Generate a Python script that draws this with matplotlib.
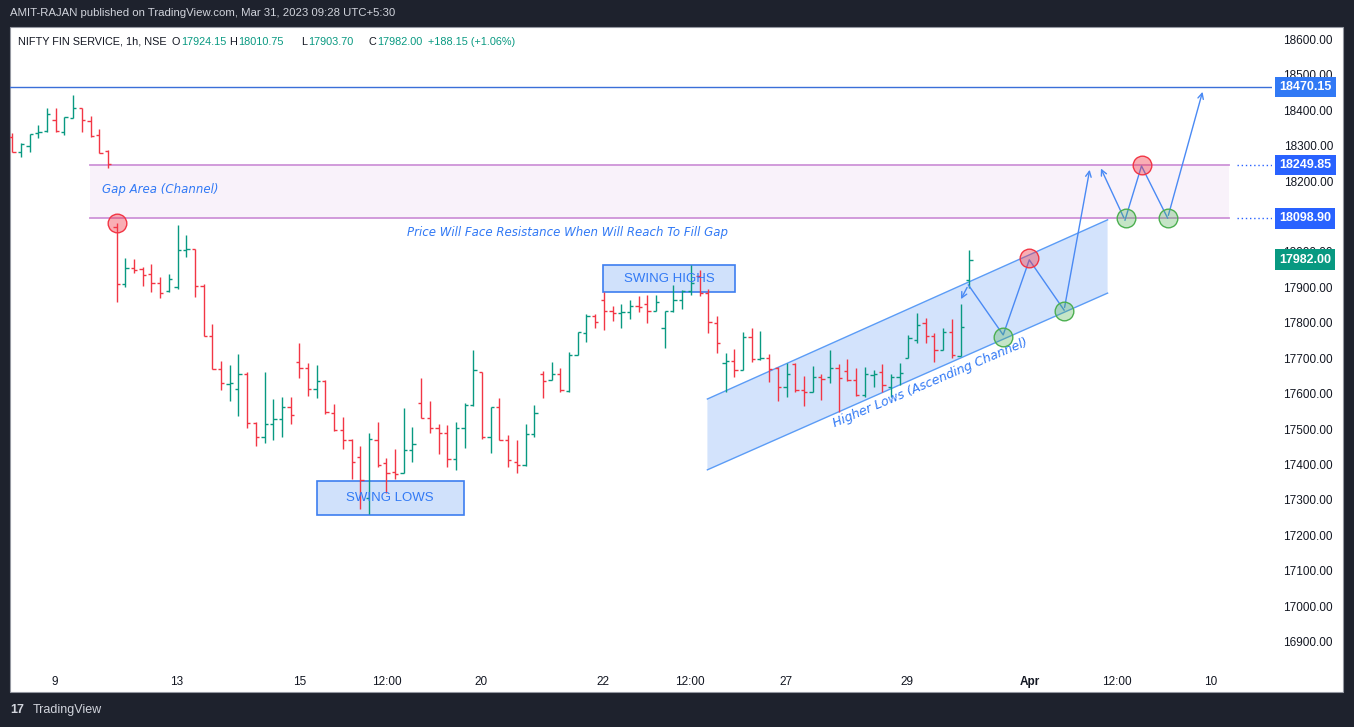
import matplotlib
matplotlib.use("Agg")
import matplotlib.pyplot as plt
from matplotlib.patches import Rectangle, Polygon
import matplotlib.transforms as mtransforms

# ---------------- data ----------------
opens = [18328,18287,18304,18339,18346,18377,18344,18382,18410,18374,18335,18290,
         18076,17913,17958,17956,17941,17916,17894,17906,18010,18013,17908,17767,17673,17631,17617,17659,17520,17483,17517,17532,17565,
         17694,17677,17617,17640,17549,17502,17473,17426,17309,17473,17407,17382,17379,17445,17577,17534,17506,17492,17420,17506,17572,
         17664,17481,17566,17473,17412,17403,17489,17661,17643,17661,17612,
         17713,17776,17824,17869,17838,17831,17836,17852,17856,17838,17789,17838,17869,17895,17936,17889,17803,17690,17696,17671,17765,17702,17704,17676,
         17624,17688,17613,17610,17650,17650,17676,17669,17643,17600,17657,17666,17624,17652,17706,17757,17803,17767,17727,17779,17711,17924.15]
highs = [18339,18311,18336,18363,18410,18410,18384,18447,18412,18388,18351,18292,
         18085,17986,17984,17963,17969,17933,17941,18080,18052,18013,17914,17801,17696,17685,17716,17664,17525,17666,17589,17594,17594,
         17748,17690,17685,17643,17575,17537,17475,17456,17492,17523,17421,17448,17563,17509,17647,17583,17517,17516,17523,17577,17727,
         17664,17567,17591,17487,17473,17517,17572,17668,17693,17676,17721,
         17779,17829,17828,17892,17852,17857,17869,17880,17883,17883,17838,17911,17897,17967,17953,17899,17823,17718,17729,17777,17789,17781,17716,17680,
         17690,17690,17654,17682,17659,17727,17688,17701,17676,17680,17671,17688,17659,17692,17770,17833,17817,17774,17789,17814,17857,18010.75]
lows = [18287,18273,18287,18325,18344,18344,18335,18382,18344,18328,18283,18240,
        17864,17906,17944,17909,17892,17873,17892,17899,17991,17878,17767,17673,17614,17584,17542,17506,17457,17464,17473,17481,17517,
        17649,17598,17591,17546,17499,17447,17362,17277,17264,17396,17323,17363,17379,17410,17534,17492,17435,17398,17389,17450,17570,
        17475,17437,17473,17398,17381,17401,17481,17593,17643,17608,17608,
        17713,17751,17790,17784,17810,17790,17815,17836,17805,17838,17734,17836,17843,17883,17881,17774,17718,17608,17652,17671,17694,17699,17638,17582,
        17594,17610,17569,17608,17586,17633,17553,17640,17598,17596,17624,17610,17596,17629,17704,17746,17746,17694,17727,17704,17711,17903.70]
closes = [18287,18308,18336,18344,18393,18346,18384,18410,18377,18333,18285,18254,
          17913,17960,17953,17939,17916,17887,17928,18010,18013,17908,17767,17673,17633,17633,17659,17520,17483,17517,17532,17565,17544,
          17677,17617,17640,17551,17502,17473,17410,17360,17475,17403,17379,17377,17445,17461,17534,17506,17492,17420,17506,17572,17671,
          17481,17567,17473,17417,17403,17489,17549,17640,17660,17613,17713,
          17777,17824,17806,17838,17831,17834,17852,17850,17838,17862,17838,17869,17895,17916,17887,17806,17746,17696,17671,17765,17702,17704,17674,17624,
          17659,17613,17610,17650,17645,17676,17647,17643,17600,17661,17661,17629,17652,17663,17760,17798,17767,17727,17779,17713,17791,17982.00]

price_ticks = [16900,17000,17100,17200,17300,17400,17500,17600,17700,17800,17900,18000,18200,18300,18400,18500,18600]
date_pos = [4.9,18.9,33.0,43.0,53.9,67.9,77.9,88.9,102.8,117.0,127.0,137.8]
date_labels = ["9","13","15","12:00","20","22","12:00","27","29","Apr","12:00","10"]

target_level = 18470.15
gap_top, gap_bottom = 18249.85, 18098.90
last_close = 17982.00

red_pts = [(12.05,18086),(116.9,17987),(129.9,18250)]
green_pts = [(113.9,17764),(120.9,17837),(128.0,18100),(132.8,18100)]
swing_lows_box = (35.0, 51.9, 17262, 17357)
swing_highs_box = (67.9, 83.1, 17891, 17966)
channel = [(79.9,17389),(79.9,17589),(125.9,18095),(125.9,17888)]
path_main = [(109.9,17911),(113.9,17770),(116.9,17982),(120.9,17840)]
path_end = [(125.0,18247),(127.9,18094),(129.8,18247),(132.8,18100)]

# ---------------- figure ----------------
W, H = 1354, 727
fig = plt.figure(figsize=(W/100, H/100), dpi=100)
fig.patch.set_facecolor("#1e222d")

def fx(px): return px / W
def fy(py): return 1 - py / H

panel = Rectangle((fx(10), fy(692)), fx(1343)-fx(10), fy(27)-fy(692),
                  transform=fig.transFigure, facecolor="white", edgecolor="#9598a1", lw=0.8, zorder=-10)
fig.patches.append(panel)

ax = fig.add_axes([fx(10), fy(662), fx(1272)-fx(10), fy(27)-fy(662)])
ax.set_zorder(1)
ax.set_facecolor("none")
ax.set_xlim(-0.264, 144.8)
ax.set_ylim(16846.3, 18639.5)
for s in ax.spines.values():
    s.set_visible(False)
ax.set_yticks([])
ax.set_xticks(date_pos)
ax.set_xticklabels(date_labels, fontsize=8.5, color="#131722", family="Liberation Sans")
for lbl in ax.get_xticklabels():
    if lbl.get_text() == "Apr":
        lbl.set_fontweight("bold")
ax.tick_params(axis="x", length=0, pad=10)

blend = mtransforms.blended_transform_factory(ax.transAxes, ax.transData)
xr = (1333 - 10) / 1262
for p in price_ticks:
    ax.text(xr, p, f"{p:.2f}", transform=blend, ha="right", va="center",
            fontsize=8.5, color="#131722", family="Liberation Sans", clip_on=False)

BLUE = "#3179f5"
# gap area
ax.add_patch(Rectangle((8.9, gap_bottom), 139.8-8.9, gap_top-gap_bottom, facecolor="#f9f2fa", edgecolor="none", zorder=1))
ax.plot([8.9, 139.8], [gap_top, gap_top], color="#ce93d8", lw=1.3, zorder=2)
ax.plot([8.9, 139.8], [gap_bottom, gap_bottom], color="#ce93d8", lw=1.3, zorder=2)
for lv in (gap_top, gap_bottom):
    ax.plot([140.8, 144.8], [lv, lv], color="#2962ff", lw=1, ls=(0, (1, 2)), zorder=2)
ax.text(10.3, 18182, "Gap Area (Channel)", fontsize=8.5, style="italic", color=BLUE, va="center", zorder=5)
ax.text(63.8, 18058, "Price Will Face Resistance When Will Reach To Fill Gap", fontsize=8.5,
        style="italic", color=BLUE, ha="center", va="center", zorder=5)

# target line
ax.axhline(target_level, color="#3a6fd8", lw=1, zorder=2)

# channel
ax.add_patch(Polygon(channel, closed=True, facecolor="#d3e3fc", edgecolor="none", zorder=1))
ax.plot([channel[1][0], channel[2][0]], [channel[1][1], channel[2][1]], color="#5b9cf6", lw=1, zorder=2)
ax.plot([channel[0][0], channel[3][0]], [channel[0][1], channel[3][1]], color="#5b9cf6", lw=1, zorder=2)
ax.text(105.5, 17634, "Higher Lows (Ascending Channel)", fontsize=9, style="italic", color=BLUE,
        rotation=23, ha="center", va="center", zorder=5)

# swing boxes
for (x0, x1, y0, y1), txt in ((swing_lows_box, "SWING LOWS"), (swing_highs_box, "SWING HIGHS")):
    ax.add_patch(Rectangle((x0, y0), x1-x0, y1-y0, facecolor="#d0e1fb", edgecolor="#3d7ef0", lw=1.2, zorder=1))
    ax.text((x0+x1)/2, (y0+y1)/2, txt, fontsize=9.5, color=BLUE, ha="center", va="center", zorder=6,
            family="Liberation Sans")

# OHLC bars
tick = 0.38
for i in range(len(closes)):
    c = "#089981" if closes[i] >= opens[i] else "#f23645"
    ax.plot([i, i], [lows[i], highs[i]], color=c, lw=1.0, zorder=4, solid_capstyle="butt")
    ax.plot([i-tick, i], [opens[i], opens[i]], color=c, lw=1.0, zorder=4, solid_capstyle="butt")
    ax.plot([i, i+tick], [closes[i], closes[i]], color=c, lw=1.0, zorder=4, solid_capstyle="butt")

# projected path
arrow_kw = dict(arrowstyle="->", color="#4a8af4", lw=1.0, mutation_scale=10)
ax.annotate("", xy=(108.9, 17864), xytext=path_main[0], arrowprops=arrow_kw, zorder=6)
ax.plot([p[0] for p in path_main], [p[1] for p in path_main], color="#4a8af4", lw=1.0, zorder=6)
ax.annotate("", xy=(123.9, 18244), xytext=path_main[-1], arrowprops=arrow_kw, zorder=6)
ax.annotate("", xy=path_end[0], xytext=path_end[1], arrowprops=arrow_kw, zorder=6)
ax.plot([p[0] for p in path_end[1:]], [p[1] for p in path_end[1:]], color="#4a8af4", lw=1.0, zorder=6)
ax.annotate("", xy=(136.9, 18464), xytext=path_end[-1], arrowprops=arrow_kw, zorder=6)

# circles
ax.scatter([p[0] for p in red_pts], [p[1] for p in red_pts], s=180, facecolor=(0.95, 0.21, 0.27, 0.4),
           edgecolor="#f23645", lw=1, zorder=7)
ax.scatter([p[0] for p in green_pts], [p[1] for p in green_pts], s=180, facecolor=(0.30, 0.69, 0.31, 0.32),
           edgecolor="#4caf50", lw=1, zorder=7)

# right price labels
xl = (1279 - 10) / 1262
for lv, col in ((target_level, "#3179f5"), (gap_top, "#2962ff"), (gap_bottom, "#2962ff"), (last_close, "#089981")):
    ax.text(xl, lv, f"{lv:.2f}", transform=blend, ha="left", va="center", fontsize=9, fontweight="bold",
            color="white", family="Liberation Sans", clip_on=False, zorder=10,
            bbox=dict(boxstyle="square,pad=0.35", facecolor=col, edgecolor="none"))

# header texts
fig.text(fx(10), fy(13), "AMIT-RAJAN published on TradingView.com, Mar 31, 2023 09:28 UTC+5:30",
         fontsize=8.2, color="#d1d4dc", va="center", family="Liberation Sans")
fig.text(fx(18), fy(42), "NIFTY FIN SERVICE, 1h, NSE", fontsize=7.8, color="#131722", va="center",
         family="Liberation Sans", zorder=5)
TEAL = "#089981"
for x, t, c in ((172, "O", "#131722"), (181, "17924.15", TEAL), (229, "H", "#131722"), (238, "18010.75", TEAL),
                (301, "L", "#131722"), (308, "17903.70", TEAL), (368, "C", "#131722"), (377, "17982.00", TEAL),
                (428, "+188.15 (+1.06%)", TEAL)):
    fig.text(fx(x), fy(42), t, fontsize=7.8, color=c, va="center", family="Liberation Sans", zorder=5)

fig.text(fx(10), fy(710), "17", fontsize=9, color="#d1d4dc", fontweight="bold", va="center", family="Liberation Sans")
fig.text(fx(33), fy(710), "TradingView", fontsize=9, color="#d1d4dc", va="center", family="Liberation Sans")

fig.savefig("out.png", dpi=100, facecolor=fig.get_facecolor())
